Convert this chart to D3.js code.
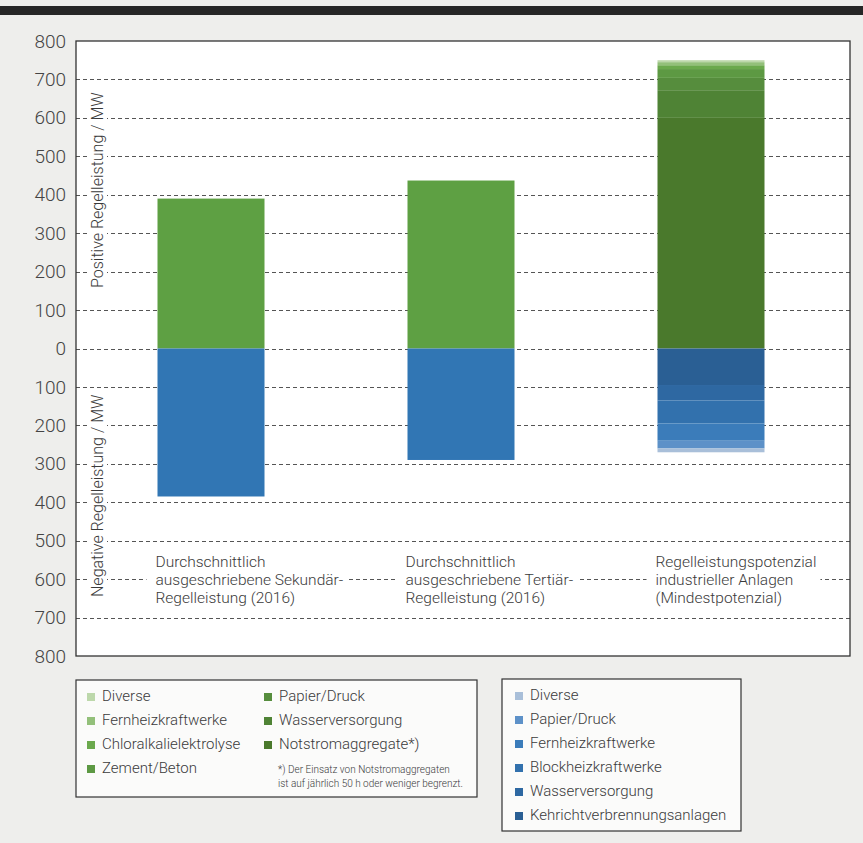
<!DOCTYPE html>
<html>
<head>
<meta charset="utf-8">
<script src="https://cdn.jsdelivr.net/npm/d3@7"></script>
<style>
  html, body { margin: 0; padding: 0; background: #eeeeec; }
  svg { display: block; font-family: Roboto, "Open Sans", sans-serif; }
</style>
</head>
<body>
<svg id="chart" width="863" height="843"></svg>
<script>
// ---- data ----
const categories = ["sekundaer", "tertiaer", "potenzial"];
const categoryLabels = [
  ["Durchschnittlich", "ausgeschriebene Sekundär-", "Regelleistung (2016)"],
  ["Durchschnittlich", "ausgeschriebene Tertiär-", "Regelleistung (2016)"],
  ["Regelleistungspotenzial", "industrieller Anlagen", "(Mindestpotenzial)"]
];
// tendered control power (single segments)
const tenderPositive = [390, 437];
const tenderNegative = [385, 290];

// industrial potential, positive side (bottom to top)
const potPosNames = ["Notstromaggregate*)", "Wasserversorgung", "Papier/Druck", "Zement/Beton",
  "Chloralkalielektrolyse", "Fernheizkraftwerke", "Diverse"];
const potPosValues = [600, 72, 32, 23, 10, 8, 5];
const potPosColors = ["#4a792c", "#4f8335", "#568d3d", "#5d9943", "#6ba94d", "#93c07a", "#bdd8ab"];

// industrial potential, negative side (from zero downward)
const potNegNames = ["Kehrichtverbrennungsanlagen", "Wasserversorgung", "Blockheizkraftwerke",
  "Fernheizkraftwerke", "Papier/Druck", "Diverse"];
const potNegValues = [95, 40, 60, 45, 20, 10];
const potNegColors = ["#2a5f94", "#2e68a2", "#3271ad", "#3b7cba", "#5d91c8", "#a9bfd9"];

const tenderPosColor = "#5ea043";
const tenderNegColor = "#3176b4";

const yTicks = d3.range(-800, 801, 100);

// legend entries (top to bottom, as listed)
const legendPos = ["Diverse", "Fernheizkraftwerke", "Chloralkalielektrolyse", "Zement/Beton",
  "Papier/Druck", "Wasserversorgung", "Notstromaggregate*)"];
const legendNeg = ["Diverse", "Papier/Druck", "Fernheizkraftwerke", "Blockheizkraftwerke",
  "Wasserversorgung", "Kehrichtverbrennungsanlagen"];
const footnote = ["*) Der Einsatz von Notstromaggregaten", "ist auf jährlich 50 h oder weniger begrenzt."];

// ---- layout ----
const svg = d3.select("#chart");
const plot = { left: 76, right: 850, top: 41, bottom: 656 };
const textColor = "#3a3a3a";
const fontW = 300;

const y = d3.scaleLinear().domain([-800, 800]).range([plot.bottom, plot.top]);
const x = d3.scaleBand().domain(categories).range([86, 836]).paddingInner(0.572).paddingOuter(0.286);

// top rule
svg.append("rect").attr("x", 0).attr("y", 6).attr("width", 863).attr("height", 9).attr("fill", "#262626");

// plot area
svg.append("rect")
  .attr("x", plot.left).attr("y", plot.top)
  .attr("width", plot.right - plot.left).attr("height", plot.bottom - plot.top)
  .attr("fill", "#ffffff");

// gridlines
svg.append("g").selectAll("line")
  .data(yTicks.filter(d => Math.abs(d) < 800))
  .join("line")
  .attr("x1", plot.left).attr("x2", plot.right)
  .attr("y1", d => Math.round(y(d)) + 0.5).attr("y2", d => Math.round(y(d)) + 0.5)
  .attr("stroke", "#555").attr("stroke-width", 1).attr("stroke-dasharray", "4,3");

// y axis (labels only, absolute values)
const yAxis = d3.axisLeft(y).tickValues(yTicks).tickSize(0).tickPadding(0)
  .tickFormat(d => String(Math.abs(d)));
const yg = svg.append("g").attr("transform", `translate(66,0)`).call(yAxis);
yg.select(".domain").remove();
yg.selectAll("text")
  .attr("font-family", "Roboto, sans-serif")
  .attr("font-size", 19).attr("fill", "#444").attr("font-weight", fontW);

// bars: tendered
const bars = svg.append("g");
[0, 1].forEach(i => {
  const c = categories[i];
  bars.append("rect")
    .attr("x", x(c)).attr("width", x.bandwidth())
    .attr("y", y(tenderPositive[i])).attr("height", y(0) - y(tenderPositive[i]))
    .attr("fill", tenderPosColor);
  bars.append("rect")
    .attr("x", x(c)).attr("width", x.bandwidth())
    .attr("y", y(0)).attr("height", y(-tenderNegative[i]) - y(0))
    .attr("fill", tenderNegColor);
});

// bars: potential (stacked)
const posTop = d3.cumsum(potPosValues);
potPosValues.forEach((v, i) => {
  const hi = posTop[i], lo = hi - v;
  bars.append("rect")
    .attr("x", x(categories[2])).attr("width", x.bandwidth())
    .attr("y", y(hi)).attr("height", y(lo) - y(hi))
    .attr("fill", potPosColors[i]);
});
const negBottom = d3.cumsum(potNegValues);
potNegValues.forEach((v, i) => {
  const lo = -negBottom[i], hi = lo + v;
  bars.append("rect")
    .attr("x", x(categories[2])).attr("width", x.bandwidth())
    .attr("y", y(hi)).attr("height", y(lo) - y(hi))
    .attr("fill", potNegColors[i]);
});

// category labels with white backing over the gridlines
categoryLabels.forEach((lines, i) => {
  const g = svg.append("g");
  const bg = g.append("rect").attr("fill", "#ffffff");
  const texts = lines.map((ln, j) => g.append("text")
    .attr("x", x(categories[i]) - 2).attr("y", 567 + j * 18)
    .attr("font-size", 15.5).attr("fill", textColor).attr("font-weight", fontW)
    .text(ln));
  const boxes = texts.map(t => t.node().getBBox());
  const x0 = d3.min(boxes, b => b.x), x1 = d3.max(boxes, b => b.x + b.width);
  const y0 = d3.min(boxes, b => b.y), y1 = d3.max(boxes, b => b.y + b.height);
  bg.attr("x", x0 - 9).attr("y", y0 - 1).attr("width", x1 - x0 + 13).attr("height", y1 - y0 + 2);
});

// axis titles (rotated) with white backing
function axisTitle(label, startY) {
  const g = svg.append("g").attr("transform", `translate(103,${startY}) rotate(-90)`);
  const bg = g.append("rect").attr("fill", "#ffffff");
  const t = g.append("text").attr("x", 0).attr("y", 0)
    .attr("font-size", 16).attr("fill", textColor).attr("font-weight", fontW).text(label);
  const b = t.node().getBBox();
  bg.attr("x", b.x - 2).attr("y", b.y).attr("width", b.width + 4).attr("height", b.height);
}
axisTitle("Positive Regelleistung / MW", 288);
axisTitle("Negative Regelleistung / MW", 597);

// frame border on top
svg.append("rect")
  .attr("x", plot.left).attr("y", plot.top)
  .attr("width", plot.right - plot.left).attr("height", plot.bottom - plot.top)
  .attr("fill", "none").attr("stroke", "#333").attr("stroke-width", 1.3);

// ---- legends ----
function colorFor(names, colors, name) { return colors[names.indexOf(name)]; }

// positive legend
const lg1 = svg.append("g");
lg1.append("rect").attr("x", 76).attr("y", 680).attr("width", 401).attr("height", 117)
  .attr("fill", "#fbfbfa").attr("stroke", "#333").attr("stroke-width", 1.2);
legendPos.forEach((name, i) => {
  const col = i < 4 ? 0 : 1;
  const row = i < 4 ? i : i - 4;
  const sx = col === 0 ? 87 : 264;
  const by = 701 + row * 24;
  lg1.append("rect").attr("x", sx).attr("y", by - 8).attr("width", 8).attr("height", 8)
    .attr("fill", colorFor(potPosNames, potPosColors, name));
  lg1.append("text").attr("x", sx + 15).attr("y", by)
    .attr("font-size", 15).attr("fill", textColor).attr("font-weight", fontW).text(name);
});
footnote.forEach((ln, j) => {
  lg1.append("text").attr("x", 278).attr("y", 773 + j * 14)
    .attr("font-size", 10).attr("fill", textColor).attr("font-weight", fontW).text(ln);
});

// negative legend
const lg2 = svg.append("g");
lg2.append("rect").attr("x", 502).attr("y", 679).attr("width", 239).attr("height", 152)
  .attr("fill", "#fbfbfa").attr("stroke", "#333").attr("stroke-width", 1.2);
legendNeg.forEach((name, i) => {
  const by = 700 + i * 24;
  lg2.append("rect").attr("x", 515).attr("y", by - 8).attr("width", 8).attr("height", 8)
    .attr("fill", colorFor(potNegNames, potNegColors, name));
  lg2.append("text").attr("x", 530).attr("y", by)
    .attr("font-size", 15).attr("fill", textColor).attr("font-weight", fontW).text(name);
});
</script>
</body>
</html>
